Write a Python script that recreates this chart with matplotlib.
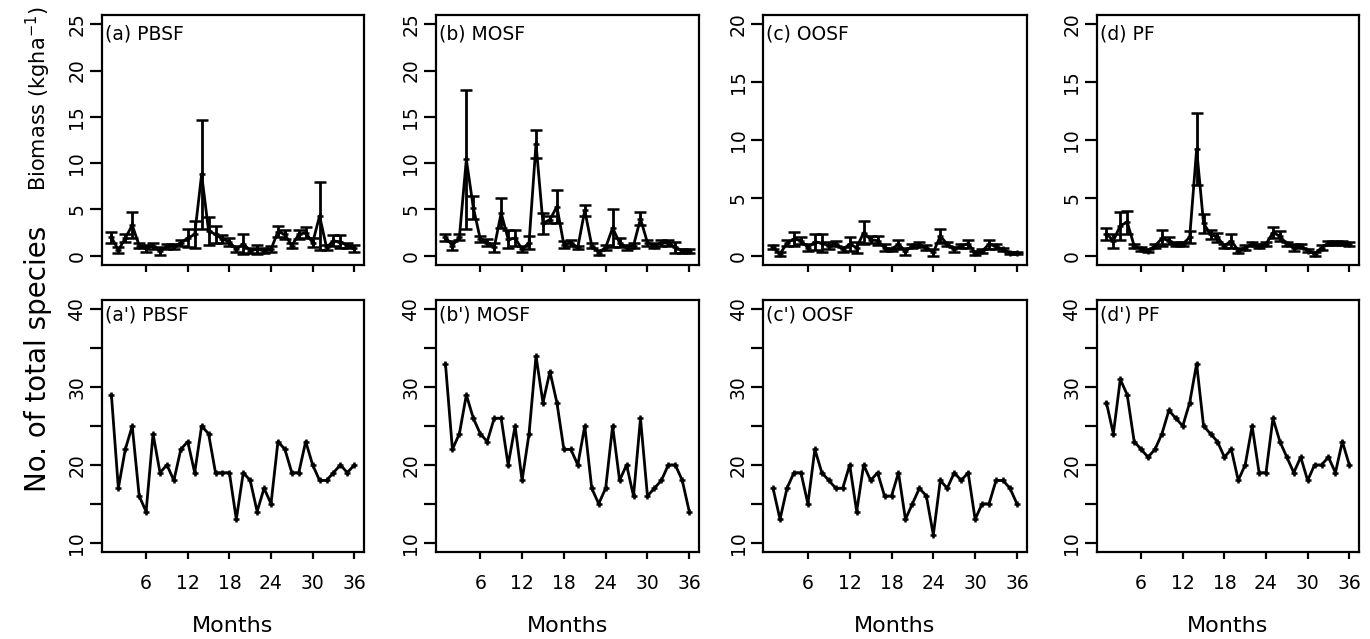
import numpy as np
import matplotlib
matplotlib.use("Agg")
import matplotlib.pyplot as plt

plt.rcParams['font.family'] = ['DejaVu Sans']

months = np.arange(1, 37)
month_ticks = [6, 12, 18, 24, 30, 36]

sites = ["PBSF", "MOSF", "OOSF", "PF"]
biomass_tags = ["(a)", "(b)", "(c)", "(d)"]
species_tags = ["(a')", "(b')", "(c')", "(d')"]

# Monthly mean biomass (kg ha-1) and standard errors
biomass_pbsf = [2.0, 0.6, 1.9, 3.3, 1.1, 0.8, 1.05, 0.5, 1.0, 1.0, 1.4, 1.9,
                2.3, 8.8, 2.7, 2.3, 1.8, 1.5, 0.7, 1.3, 0.55, 0.7, 0.55, 0.7,
                2.6, 2.3, 1.1, 2.3, 2.5, 1.4, 4.3, 0.9, 1.6, 1.5, 1.1, 0.8]
se_pbsf = [0.6, 0.3, 0.4, 1.4, 0.3, 0.35, 0.3, 0.4, 0.3, 0.3, 0.3, 1.0,
           1.5, 5.9, 1.5, 0.9, 0.4, 0.4, 0.3, 1.1, 0.3, 0.5, 0.3, 0.3,
           0.6, 0.5, 0.3, 0.5, 0.6, 0.5, 3.7, 0.3, 0.6, 0.7, 0.3, 0.35]

biomass_mosf = [2.0, 1.1, 2.0, 10.4, 5.2, 1.8, 1.4, 0.9, 4.6, 1.8, 1.9, 0.7,
                1.4, 12.1, 3.5, 3.9, 5.3, 1.2, 1.4, 0.9, 4.9, 1.1, 0.35, 0.9,
                3.0, 1.4, 0.9, 1.1, 4.0, 1.4, 1.1, 1.4, 1.4, 0.9, 0.55, 0.55]
se_mosf = [0.4, 0.5, 0.3, 7.5, 1.2, 0.3, 0.4, 0.5, 1.6, 1.0, 0.9, 0.3,
           0.7, 1.5, 1.1, 0.4, 1.8, 0.4, 0.3, 0.2, 0.6, 0.3, 0.25, 0.3,
           2.1, 0.5, 0.3, 0.3, 0.7, 0.3, 0.3, 0.3, 0.3, 0.6, 0.2, 0.2]

biomass_oosf = [0.75, 0.15, 1.1, 1.45, 1.3, 0.7, 1.2, 1.1, 0.85, 1.05, 0.55, 1.0,
                0.7, 2.0, 1.4, 1.3, 0.7, 0.55, 1.0, 0.4, 0.85, 0.95, 0.7, 0.3,
                1.7, 1.0, 0.55, 0.85, 1.05, 0.25, 0.4, 1.0, 0.8, 0.55, 0.25, 0.25]
se_oosf = [0.15, 0.15, 0.3, 0.6, 0.3, 0.3, 0.7, 0.8, 0.3, 0.2, 0.2, 0.6,
           0.5, 1.0, 0.3, 0.4, 0.3, 0.15, 0.4, 0.3, 0.2, 0.2, 0.2, 0.3,
           0.6, 0.2, 0.2, 0.2, 0.35, 0.2, 0.2, 0.4, 0.2, 0.15, 0.1, 0.1]

biomass_pf = [1.9, 1.3, 2.6, 2.9, 0.85, 0.6, 0.45, 0.85, 1.5, 1.3, 1.0, 1.0,
              1.6, 9.2, 2.8, 1.85, 1.6, 0.85, 1.3, 0.45, 0.7, 1.0, 0.85, 1.0,
              2.0, 1.7, 1.0, 0.7, 0.85, 0.45, 0.15, 0.7, 1.1, 1.1, 1.1, 1.0]
se_pf = [0.5, 0.6, 1.2, 1.0, 0.2, 0.15, 0.15, 0.2, 0.7, 0.3, 0.2, 0.2,
         0.5, 3.1, 0.8, 0.4, 0.4, 0.2, 0.6, 0.2, 0.2, 0.2, 0.2, 0.2,
         0.45, 0.4, 0.2, 0.3, 0.2, 0.15, 0.15, 0.2, 0.2, 0.2, 0.2, 0.2]

# Monthly number of total species
species_pbsf = [29, 17, 22, 25, 16, 14, 24, 19, 20, 18, 22, 23,
                19, 25, 24, 19, 19, 19, 13, 19, 18, 14, 17, 15,
                23, 22, 19, 19, 23, 20, 18, 18, 19, 20, 19, 20]
species_mosf = [33, 22, 24, 29, 26, 24, 23, 26, 26, 20, 25, 18,
                24, 34, 28, 32, 28, 22, 22, 20, 25, 17, 15, 17,
                25, 18, 20, 16, 26, 16, 17, 18, 20, 20, 18, 14]
species_oosf = [17, 13, 17, 19, 19, 15, 22, 19, 18, 17, 17, 20,
                14, 20, 18, 19, 16, 16, 19, 13, 15, 17, 16, 11,
                18, 17, 19, 18, 19, 13, 15, 15, 18, 18, 17, 15]
species_pf = [28, 24, 31, 29, 23, 22, 21, 22, 24, 27, 26, 25,
              28, 33, 25, 24, 23, 21, 22, 18, 20, 25, 19, 19,
              26, 23, 21, 19, 21, 18, 20, 20, 21, 19, 23, 20]

biomass_means = [biomass_pbsf, biomass_mosf, biomass_oosf, biomass_pf]
biomass_errs = [se_pbsf, se_mosf, se_oosf, se_pf]
biomass_ymax = [25, 25, 20, 20]
species_counts = [species_pbsf, species_mosf, species_oosf, species_pf]

W, H = 1370, 639
fig = plt.figure(figsize=(W / 100, H / 100), dpi=100)

col_edges = [(101.7, 364.0), (435.7, 699.0), (763.3, 1026.7), (1096.7, 1359.0)]
row_edges = [(15, 265), (300, 552)]


def make_axes(x0, x1, y0, y1):
    return fig.add_axes([x0 / W, 1 - y1 / H, (x1 - x0) / W, (y1 - y0) / H])


def style_axes(ax):
    for sp in ax.spines.values():
        sp.set_linewidth(1.6)
    ax.tick_params(axis='both', which='both', direction='out', width=1.6,
                   color='black', labelsize=13.5)
    ax.tick_params(axis='x', length=5, pad=11)
    ax.tick_params(axis='y', length=9, pad=2)
    ax.set_xlim(-0.4, 37.4)
    ax.set_xticks(month_ticks)
    for lab in ax.get_yticklabels():
        lab.set_rotation(90)
        lab.set_verticalalignment('center')


line_kw = dict(color='black', lw=2.0, marker='+', ms=5, mew=1.8)

for i in range(4):
    x0, x1 = col_edges[i]

    # Biomass with standard error bars
    ax = make_axes(x0, x1, *row_edges[0])
    ymax = biomass_ymax[i]
    ax.errorbar(months, biomass_means[i], yerr=biomass_errs[i],
                ecolor='black', elinewidth=2.0, capsize=4.5, capthick=2.0,
                **line_kw)
    pad = 0.04 * ymax
    ax.set_ylim(-pad, ymax + pad)
    ax.set_yticks(np.arange(0, ymax + 1, 5))
    ax.set_xticklabels([])
    style_axes(ax)
    ax.text(0.012, 0.925, f"{biomass_tags[i]} {sites[i]}", transform=ax.transAxes,
            ha='left', va='center', fontsize=13.5)

    # Species richness
    ax2 = make_axes(x0, x1, *row_edges[1])
    ax2.plot(months, species_counts[i], **line_kw)
    ax2.set_ylim(8.8, 41.2)
    ax2.set_yticks(np.arange(10, 41, 5))
    ax2.set_yticklabels(['10', '', '20', '', '30', '', '40'])
    style_axes(ax2)
    ax2.text(0.012, 0.94, f"{species_tags[i]} {sites[i]}", transform=ax2.transAxes,
             ha='left', va='center', fontsize=13.5)

    fig.text((x0 + x1) / 2 / W, 1 - 626 / H, "Months", ha='center', va='center',
             fontsize=16)

fig.text(38 / W, 1 - 99 / H, r"Biomass (kgha$^{-1}$)", rotation=90,
         ha='center', va='center', fontsize=15)
fig.text(38 / W, 1 - 359 / H, "No. of total species", rotation=90,
         ha='center', va='center', fontsize=20)

fig.savefig("out.png", dpi=100, facecolor='white')
